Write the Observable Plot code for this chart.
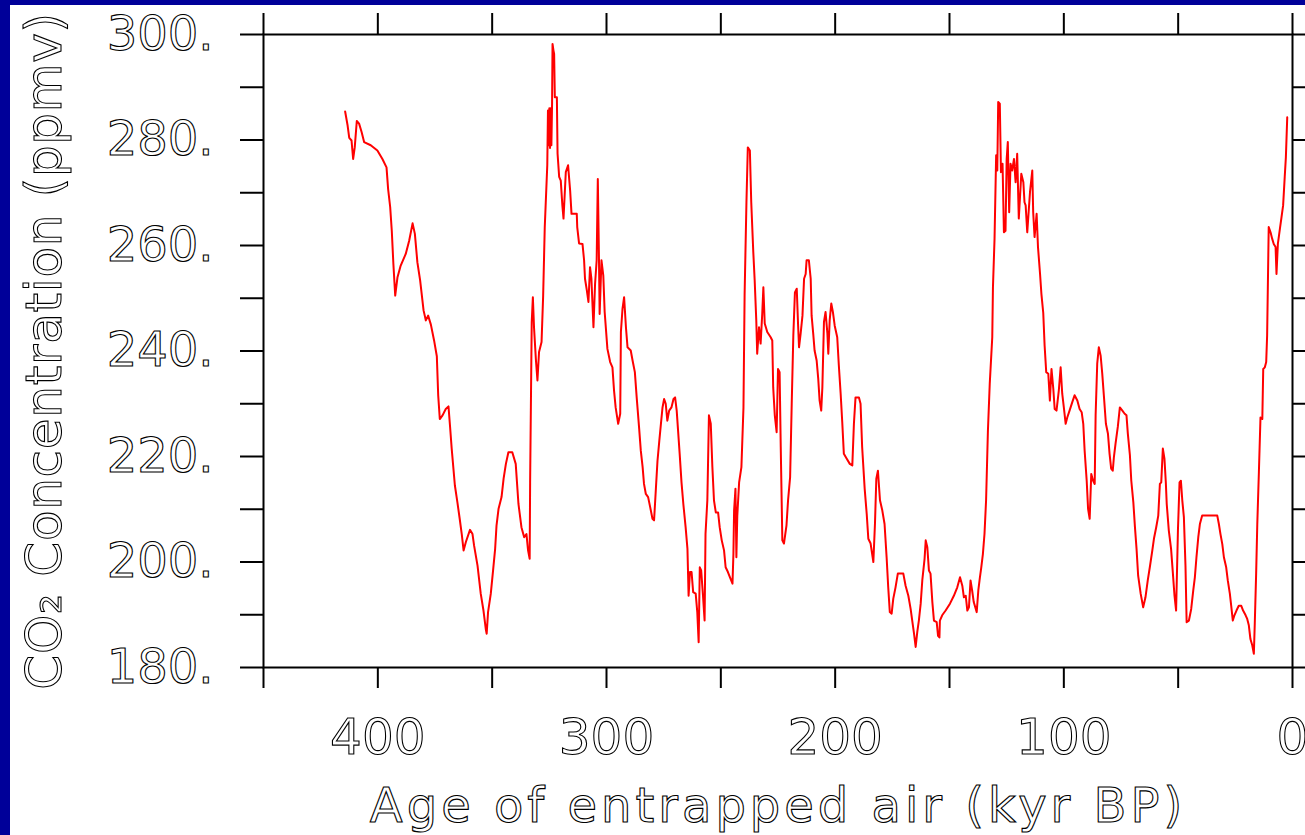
<!DOCTYPE html>
<html>
<head>
<meta charset="utf-8">
<script src="https://cdn.jsdelivr.net/npm/d3@7"></script>
<script src="https://cdn.jsdelivr.net/npm/@observablehq/plot@0.6"></script>
<style>
  html, body { margin: 0; padding: 0; }
  body { width: 1305px; height: 835px; background: #000099; position: relative; overflow: hidden; }
  #chart { position: absolute; left: 10px; top: 5px; width: 1295px; height: 830px; background: #fff; overflow: hidden; }
  #chart svg text { fill: #fff; stroke: #000; stroke-width: 1.1px; font-family: "DejaVu Sans", sans-serif; }
</style>
</head>
<body>
<div id="chart"></div>
<script>
// Age of entrapped air (kyr BP)
const ages = [
414.3,413.2,412.5,411.5,410.8,410.1,409.2,408.2,407.1,406.0,403.1,400.2,398.0,396.2,395.5,394.6,393.9,393.2,392.4,391.4,
390.0,387.8,386.3,384.8,383.8,382.7,381.5,380.0,379.0,378.0,376.8,375.4,374.2,373.6,372.9,371.7,370.3,369.1,368.4,367.7,
366.3,365.2,364.2,363.3,362.5,361.5,359.7,358.6,357.9,356.4,355.0,353.8,352.8,352.4,351.8,350.6,349.6,348.7,348.1,347.2,
345.9,345.0,344.0,342.9,341.2,339.7,338.5,337.2,336.0,335.0,334.3,333.6,333.4,332.7,332.2,331.7,330.9,330.2,329.5,328.4,
327.7,327.0,325.9,325.6,325.3,325.0,324.7,324.4,324.1,323.8,323.6,323.2,322.9,322.6,321.7,321.4,320.7,320.0,319.3,318.8,
317.8,316.8,315.9,315.3,313.0,312.8,312.0,310.5,309.8,309.4,308.6,307.9,307.2,306.6,305.7,305.0,304.3,303.8,303.3,303.0,
302.2,301.4,300.8,299.6,298.4,297.4,296.7,296.0,294.9,294.0,293.7,293.0,292.3,291.5,290.8,289.4,288.6,287.6,286.8,285.7,
285.0,284.2,283.6,282.8,281.8,280.9,279.9,279.2,278.4,277.7,276.9,276.2,275.5,274.8,274.1,273.4,272.6,271.6,270.7,270.0,
269.3,268.7,268.0,267.2,266.4,265.4,264.6,264.1,263.5,262.8,262.1,261.0,260.3,259.7,259.2,258.6,257.8,257.1,256.7,255.9,
255.2,254.4,253.7,253.0,252.2,251.2,250.5,249.6,248.6,247.9,246.9,246.0,244.9,244.5,244.2,243.6,243.2,242.8,242.0,241.0,
240.1,239.6,238.8,238.2,237.3,236.7,235.8,235.2,234.5,234.1,233.3,232.6,231.9,231.4,230.8,229.7,228.2,227.5,227.1,226.4,
225.6,225.0,224.3,223.8,223.1,222.4,221.3,220.6,219.7,219.0,218.3,217.6,216.8,216.2,215.8,215.1,214.3,213.6,212.9,212.5,
211.5,210.7,210.3,209.6,209.0,208.1,207.4,206.8,206.1,205.6,204.9,204.2,203.4,203.0,202.4,201.7,201.0,200.2,199.1,198.4,
197.6,196.9,196.2,195.0,193.6,192.5,191.8,191.1,189.6,188.9,188.2,187.1,186.2,185.5,184.5,183.3,182.6,182.0,181.3,180.4,
179.4,178.4,177.5,176.8,176.1,175.3,174.6,173.6,172.6,170.2,169.2,168.0,167.0,166.3,165.6,164.8,164.1,163.4,162.6,161.9,
160.9,160.4,159.7,159.0,158.3,157.5,156.8,155.6,155.0,154.4,154.2,153.2,151.7,149.8,148.1,146.6,145.4,144.4,143.7,142.9,
142.2,141.5,140.8,140.1,139.4,138.1,137.4,136.7,136.1,135.4,134.7,134.0,133.2,132.4,131.3,131.0,130.3,129.6,129.1,128.7,
128.0,127.5,126.8,126.2,125.5,125.0,124.5,123.9,123.3,122.6,121.8,121.1,120.4,119.7,118.6,117.7,117.2,116.7,116.0,114.8,
113.8,113.4,112.8,111.9,111.3,110.4,109.8,109.0,108.4,107.7,106.8,106.1,105.4,104.6,104.0,103.2,102.2,101.4,100.7,100.0,
99.2,98.5,97.5,96.3,95.3,94.1,93.1,92.2,91.5,90.9,90.0,89.4,88.7,88.0,87.2,86.5,86.1,85.4,84.7,83.9,
83.2,82.5,81.6,80.7,80.0,79.3,78.6,78.1,77.4,76.4,75.5,74.4,73.4,72.6,72.0,71.1,70.5,69.6,68.9,68.2,
67.5,66.4,65.3,64.3,63.3,62.4,61.3,60.6,59.6,58.7,58.0,57.4,56.7,56.0,55.4,55.0,54.1,53.1,52.3,51.6,
50.9,50.1,49.4,48.8,48.2,47.5,46.8,46.3,45.3,44.3,43.4,42.7,42.0,41.2,40.5,39.5,32.9,32.2,31.5,30.7,
30.0,29.0,28.3,27.4,26.8,26.1,25.4,24.5,23.5,22.4,21.6,20.5,19.8,19.1,18.4,17.6,16.9,16.5,15.9,15.4,
14.7,14.0,13.2,12.8,12.1,11.5,11.1,10.4,9.6,8.9,8.2,7.4,7.0,6.4,5.5,4.8,4.1,3.4,2.9,2.3
];
// CO2 concentration (ppmv)
const co2 = [
285.4,282.7,280.4,279.9,276.4,278.6,283.6,283.1,281.5,279.6,279.0,278.0,276.4,274.8,270.7,267.3,262.8,256.5,250.5,254.0,
256.2,258.4,260.9,264.2,262.2,256.8,253.4,247.7,245.8,246.7,245.0,242.0,239.0,231.6,227.1,227.8,229.0,229.5,225.6,221.5,
214.5,211.3,208.2,205.3,202.2,203.8,206.1,205.3,203.1,199.3,194.0,190.8,187.3,186.4,190.5,194.0,198.4,202.5,206.9,210.1,
212.3,215.8,218.6,220.8,220.8,218.6,211.0,206.6,204.7,205.3,202.2,200.6,215.1,245.5,250.2,244.5,238.5,234.4,239.8,241.7,
250.5,263.5,275.2,285.6,279.0,286.0,278.5,286.0,279.0,287.0,298.2,297.0,296.3,288.1,288.1,277.4,273.0,272.3,267.6,265.1,
273.9,275.2,270.4,266.0,266.0,263.5,260.4,260.3,257.2,253.7,251.5,249.3,255.9,253.7,244.5,252.7,257.2,272.6,257.8,247.0,
257.2,254.3,247.4,240.4,237.9,236.9,232.5,229.3,226.2,228.1,243.6,248.0,250.2,244.5,240.7,240.1,238.2,236.0,231.2,225.2,
221.1,218.0,214.8,212.9,212.3,210.4,208.2,207.9,213.9,219.2,223.0,226.2,229.3,230.9,230.0,226.8,228.7,229.3,230.9,231.2,
228.7,224.9,220.5,215.1,211.0,206.6,202.5,193.6,198.1,198.1,194.3,194.0,190.5,184.8,199.0,198.4,193.6,188.9,205.3,211.7,
227.8,226.2,218.0,211.7,209.4,209.4,206.6,204.1,202.2,199.0,198.1,197.1,195.9,201.5,209.8,213.9,200.9,208.8,215.1,218.0,
229.3,250.8,268.2,278.6,278.0,268.2,258.7,253.4,245.8,239.5,244.5,241.4,247.0,252.1,245.2,243.6,242.6,242.0,233.1,227.8,
224.6,236.6,236.0,221.8,204.1,203.5,206.9,211.7,216.1,230.0,242.9,251.1,251.8,244.8,240.7,243.3,246.7,253.7,254.6,257.2,
257.2,253.7,246.7,243.3,240.1,238.2,234.7,230.6,228.7,233.1,245.5,247.4,243.3,239.5,245.8,249.0,247.4,244.8,242.6,237.3,
231.9,226.5,220.5,219.6,218.6,218.3,226.2,231.2,231.2,230.0,221.8,213.9,209.1,204.4,203.5,200.0,207.2,215.8,217.3,211.7,
209.8,207.2,200.9,195.2,190.5,190.2,193.0,195.2,197.8,197.8,195.5,193.6,191.1,188.9,186.7,183.9,186.7,188.9,192.1,196.5,
200.6,204.1,202.8,198.4,197.8,192.4,188.9,188.6,186.0,185.7,188.9,189.9,190.8,192.1,193.6,195.2,197.1,195.5,193.3,193.6,
190.8,191.4,196.5,194.6,192.4,190.5,194.6,197.1,199.0,201.5,205.3,211.7,224.9,233.8,242.6,252.1,261.3,277.1,274.2,287.2,
286.9,273.9,275.5,262.5,262.8,276.4,279.6,266.3,275.5,274.2,276.4,272.0,277.4,265.1,273.6,272.0,268.2,267.6,262.5,270.1,
274.2,266.3,261.6,266.0,259.7,254.6,250.8,247.2,241.0,236.0,235.7,230.6,236.6,232.8,229.0,228.7,232.5,236.9,231.9,229.3,
226.2,227.4,228.7,230.3,231.6,230.6,229.0,228.4,226.2,221.1,215.4,210.1,208.2,216.7,215.4,214.8,227.8,237.6,240.7,239.1,
235.7,231.6,226.2,224.3,220.5,217.7,217.3,219.9,222.4,225.6,229.3,228.7,228.1,227.8,224.3,220.2,215.4,211.3,206.6,202.5,
197.4,194.0,191.4,193.3,196.5,199.0,202.2,204.4,206.6,208.8,214.8,215.1,221.5,219.6,215.1,211.0,206.0,202.5,197.8,193.6,
190.8,206.0,215.1,215.4,211.7,208.5,199.3,188.6,188.9,191.1,194.6,197.1,200.9,204.7,207.2,208.8,208.8,207.2,205.3,203.4,
200.9,199.0,196.5,194.0,191.7,188.9,189.9,190.8,191.7,191.7,190.8,189.9,189.2,188.0,185.4,184.2,182.6,188.3,197.8,207.2,
217.0,227.4,227.1,236.6,236.9,237.9,242.9,263.5,262.5,261.3,260.3,259.7,254.6,260.3,263.2,265.4,267.6,273.0,276.7,284.3
];

// Axis ticks and labels
const xTicks = [450, 400, 350, 300, 250, 200, 150, 100, 50, 0];
const xLabels = [400, 300, 200, 100, 0];
const yTicks = [180, 190, 200, 210, 220, 230, 240, 250, 260, 270, 280, 290, 300];
const yLabels = [180, 200, 220, 240, 260, 280, 300];
const xTitle = "Age of entrapped air (kyr BP)";
const yTitle = "CO₂ Concentration (ppmv)";

const data = ages.map((a, i) => ({age: a, co2: co2[i]}));
const blank = () => "";

const chart = Plot.plot({
  width: 1295,
  height: 830,
  marginLeft: 253,
  marginRight: 13,
  marginTop: 29,
  marginBottom: 168,
  style: {background: "white", overflow: "hidden"},
  x: {domain: [450, 0], label: null},
  y: {domain: [180, 300], label: null},
  marks: [
    Plot.axisY(yTicks, {anchor: "left", tickSize: 23, strokeWidth: 2, tickFormat: blank, label: null}),
    Plot.axisY(yLabels, {anchor: "left", tickSize: 0, tickPadding: 50, fontSize: 48, tickFormat: d => d + ".", label: null}),
    Plot.axisY(yTicks, {anchor: "right", tickSize: 16, strokeWidth: 2, tickFormat: blank, label: null}),
    Plot.axisX(xTicks, {anchor: "top", tickSize: 22, strokeWidth: 2, tickFormat: blank, label: null}),
    Plot.axisX(xTicks, {anchor: "bottom", tickSize: 21, strokeWidth: 2, tickFormat: blank, label: null}),
    Plot.axisX(xLabels, {anchor: "bottom", tickSize: 0, tickPadding: 51, fontSize: 50, tickFormat: d => String(d), label: null}),
    Plot.frame({stroke: "black", strokeWidth: 2}),
    Plot.line(data, {x: "age", y: "co2", stroke: "#ff0000", strokeWidth: 2}),
    Plot.text([yTitle], {frameAnchor: "left", textAnchor: "middle", rotate: -90, dx: -219, fontSize: 50, lineAnchor: "middle"}),
    Plot.text([xTitle], {frameAnchor: "bottom", textAnchor: "middle", dy: 139, fontSize: 48, lineAnchor: "middle"})
  ]
});
// letter spacing of the two titles (style only)
d3.select(chart).selectAll("text").each(function () {
  const t = this.textContent;
  if (t === xTitle) this.style.letterSpacing = "4px";
  else if (t === yTitle) this.style.letterSpacing = "0.7px";
});
document.getElementById("chart").appendChild(chart);
</script>
</body>
</html>
